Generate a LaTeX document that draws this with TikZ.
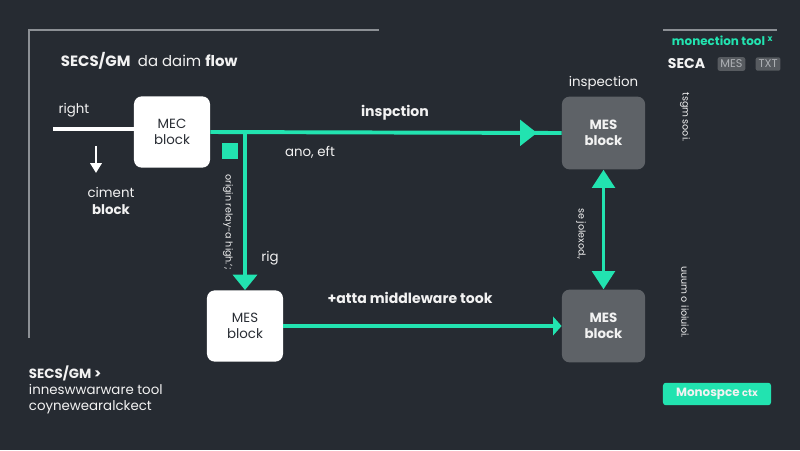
\documentclass[tikz,border=0pt]{standalone}
\usepackage{fontspec}
\setmainfont{Poppins}
\usepackage{tikz}
\usetikzlibrary{arrows.meta,positioning,decorations.markings}
\definecolor{mcbg}{HTML}{262B32}
\definecolor{mcgreen}{HTML}{22E3B0}
\definecolor{mcgrey}{HTML}{5E6267}
\definecolor{mcrule}{HTML}{8C9095}
\definecolor{mctext}{HTML}{F2F2F2}
\definecolor{mcink}{HTML}{2A2E35}
\definecolor{mctag}{HTML}{575B60}
\tikzset{
  mcwhite/.style ={rectangle, rounded corners=5.5pt, fill=white, minimum width=1.9cm,
                   minimum height=1.78cm, align=center, text=mcink,
                   font=\fontsize{9.5}{11.5}\selectfont},
  mcbox/.style   ={rectangle, rounded corners=5.5pt, fill=mcgrey, minimum width=2.08cm,
                   minimum height=1.82cm, align=center, text=mctext,
                   font=\fontsize{9.5}{11.5}\selectfont\bfseries},
  mcframe/.style ={draw=mcrule, line width=0.9pt},
  mcwire/.style  ={draw=white, line width=2.6pt},
  mcdown/.style  ={-{Triangle[length=7pt,width=8pt]}, draw=white, line width=1.8pt},
  mcflow/.style  ={draw=mcgreen, line width=2.8pt},
  mcarrow/.style ={-{Triangle[length=11pt,width=17pt]}, draw=mcgreen, line width=2.8pt},
  mcthin/.style  ={-{Triangle[length=6pt,width=13pt]}, draw=mcgreen, line width=2.8pt},
  mcboth/.style  ={{Triangle[length=13pt,width=16pt]}-{Triangle[length=13pt,width=16pt]},
                   draw=mcgreen, line width=2.8pt},
  mclbl/.style   ={text=mctext, font=\fontsize{9.5}{11.5}\selectfont, align=center},
  mclblb/.style  ={mclbl, font=\fontsize{10}{12}\selectfont\bfseries},
  mcside/.style  ={text=mctext, font=\fontsize{6.8}{7}\selectfont, rotate=-90},
  mctag/.style   ={rectangle, rounded corners=1.5pt, fill=mctag, text=mcrule!70,
                   font=\fontsize{8}{9}\selectfont, inner sep=2pt},
}

\begin{document}
\begin{tikzpicture}[x=0.025cm, y=-0.025cm]
  \fill[mcbg] (0,0) rectangle (800,450);
  \useasboundingbox (0,0) rectangle (800,450);
  \draw[mcframe] (379,30) -- (29,30) -- (29,338);
  \draw[mcframe] (663,30) -- (777,30);
  \node[mclbl, anchor=west, font=\fontsize{10.6}{13}\selectfont] (title) at (56,61)
       {\textbf{SECS/GM}\enspace da daim \textbf{flow}};

  \node[mcwhite] (mec) at (172,132) {MEC\\block};
  \node[mcwhite] (mesw) at (245,326) {MES\\block};
  \node[mcbox] (mesa) at (603.5,133) {MES\\block};
  \node[mcbox] (mesb) at (603.5,326) {MES\\block};

  \coordinate (rin) at (53,129);
  \draw[mcwire] (rin) -- (rin -| mec.west);
  \node[mclbl] (right) at (74,110) {right};
  \node[mclbl] (ciment) at (111,201) {ciment\\\textbf{block}};
  \coordinate (dtop) at (96,146);
  \draw[mcdown] (dtop) -- (96,173);

  \draw[mcflow, postaction={decorate}, decoration={markings,
        mark=at position 0.93 with {\arrow{Triangle[length=12pt,width=18pt]}}}]
       (mec.east) -- (mesa.west);
  \draw[mcarrow] (mesw.north |- mec.east) -- (mesw.north);
  \draw[mcthin] (mesw.east) -- (mesb.west);
  \draw[mcboth] (mesa.south) -- (mesb.north);

  \node[fill=mcgreen, minimum size=0.4cm, inner sep=0pt] (sq) at (230,151) {};
  \node[mclblb] (insp) at (395,113) {inspction};
  \node[mclbl] (ano) at (310,152) {ano, eft};
  \node[mclbl] (rig) at (270,258) {rig};
  \node[mclblb] (mid) at (410,298) {+atta middleware took};
  \node[mclbl, above=1pt of mesa] (inspa) {inspection};

  \node[mcside] (sidea) at (228,222) {origin relay-a high.';};
  \node[mcside] (sideb) at (581,234) {se jolexod.,};
  \node[mcside] (sidec) at (685,117) {tsgm sooi.};
  \node[mcside] (sided) at (685,302) {uuum o iioiuioi.};

  \node[anchor=west, text=mcgreen, font=\fontsize{8.5}{10}\selectfont\bfseries]
       (tool) at (667,41) {monection tool \textsuperscript{x}};
  \node[mclblb, anchor=west] (seca) at (663,64) {SECA};
  \node[mctag, right=5pt of seca] (tmes) {MES};
  \node[mctag, right=7pt of tmes] (ttxt) {TXT};

  \node[fill=mcgreen, rounded corners=2pt, minimum width=2.7cm, minimum height=0.56cm,
        text=mctext, font=\fontsize{8.5}{10}\selectfont\bfseries]
       (mono) at (717,394) {Monospce {\scriptsize ctx}};

  \node[mclbl, anchor=west, align=left] (foot) at (24,390)
       {\textbf{SECS/GM >}\\inneswwarware tool\\coynewearalckect};
\end{tikzpicture}
\end{document}
